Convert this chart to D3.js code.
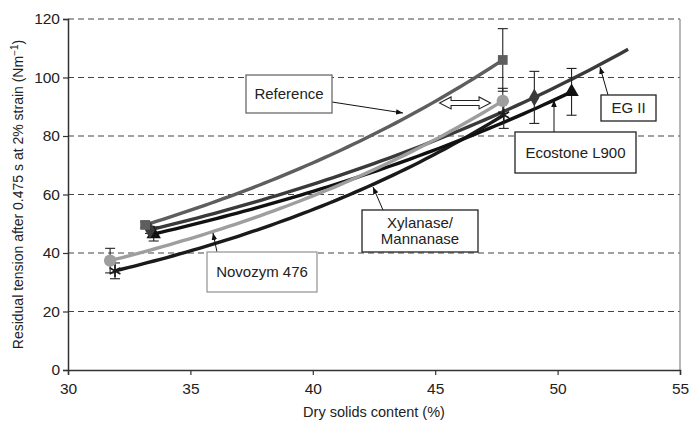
<!DOCTYPE html>
<html><head><meta charset="utf-8">
<script src="https://cdn.jsdelivr.net/npm/d3@7"></script>
<style>body{margin:0;background:#fff}svg{display:block;font-family:"Liberation Sans",Arial,sans-serif}</style>
</head><body><svg id="c" width="689" height="427"></svg>
<script>
// ---- data ----
const xTicks = [30, 35, 40, 45, 50, 55];
const yTicks = [0, 20, 40, 60, 80, 100, 120];
const seriesNames = ["Reference", "Novozym 476", "EG II", "Ecostone L900", "Xylanase/Mannanase"];
const refX = [33.15, 47.76], refY = [49.6, 106.0], refErr = [1.0, 10.7];
const novX = [31.72, 47.76], novY = [37.4, 92.0], novErr = [4.2, 4.3];
const egX  = [33.35, 49.05], egY  = [47.9, 93.2], egErr  = [1.2, 8.9];
const ecoX = [33.5, 50.57],  ecoY = [46.5, 95.1], ecoErr = [2.4, 8.0];
const xylX = [31.92, 47.8],  xylY = [33.9, 87.2], xylErr = [2.7, 4.6];
const trendEnd = [47.76, 47.76, 52.88, 50.57, 47.8];

const W = 689, H = 427, m = {l: 68, r: 9, t: 19, b: 57};
const svg = d3.select("#c");
const x = d3.scaleLinear().domain([30, 55]).range([m.l, W - m.r]);
const y = d3.scaleLinear().domain([0, 120]).range([H - m.b, m.t]);

// grid
svg.append("g").selectAll("line").data(yTicks.filter(d => d > 0)).join("line")
  .attr("x1", x(30)).attr("x2", x(55)).attr("y1", d => y(d)).attr("y2", d => y(d))
  .attr("stroke", "#444").attr("stroke-width", 1.2).attr("stroke-dasharray", "6,4");
// right border
svg.append("line").attr("x1", x(55)).attr("x2", x(55)).attr("y1", y(120)).attr("y2", y(0))
  .attr("stroke", "#888").attr("stroke-width", 1.2);

// axes
const ax = svg.append("g").attr("transform", `translate(0,${y(0)})`)
  .call(d3.axisBottom(x).tickValues(xTicks).tickSize(5).tickPadding(5));
const ay = svg.append("g").attr("transform", `translate(${x(30)},0)`)
  .call(d3.axisLeft(y).tickValues(yTicks).tickSize(5).tickPadding(3));
[ax, ay].forEach(g => {
  g.select(".domain").attr("stroke", "#333").attr("stroke-width", 1.5);
  g.selectAll(".tick line").attr("stroke", "#333").attr("stroke-width", 1.2);
  g.selectAll("text").attr("font-size", 15.5).attr("fill", "#222")
    .attr("font-family", "'Liberation Sans',Arial,sans-serif");
});
ax.selectAll("text").attr("dy", "0.9em");

svg.append("text").attr("x", (x(30) + x(55)) / 2).attr("y", 417).attr("text-anchor", "middle")
  .attr("font-size", 14.5).attr("fill", "#222").text("Dry solids content (%)");
const yt = svg.append("text").attr("transform", `translate(23,${(y(0) + y(120)) / 2}) rotate(-90)`)
  .attr("text-anchor", "middle").attr("font-size", 14).attr("fill", "#222");
yt.append("tspan").text("Residual tension after 0.475 s at 2% strain (Nm");
yt.append("tspan").attr("dy", -5).attr("font-size", 10).text("−1");
yt.append("tspan").attr("dy", 5).text(")");

// series
const series = [
  {name: seriesNames[0], xs: refX, ys: refY, err: refErr, color: "#5e5e5e", sym: d3.symbolSquare, size: 95, fill: true},
  {name: seriesNames[1], xs: novX, ys: novY, err: novErr, color: "#9e9e9e", sym: d3.symbolCircle, size: 120, fill: true},
  {name: seriesNames[2], xs: egX, ys: egY, err: egErr, color: "#3a3a3a", sym: d3.symbolDiamond, size: 90, fill: true},
  {name: seriesNames[3], xs: ecoX, ys: ecoY, err: ecoErr, color: "#111", sym: d3.symbolTriangle, size: 90, fill: true},
  {name: seriesNames[4], xs: xylX, ys: xylY, err: xylErr, color: "#1a1a1a", sym: d3.symbolAsterisk, size: 110, fill: false}
];
series.forEach((s, i) => s.end = trendEnd[i]);

// exponential trendline (least squares on ln y)
function expFit(xs, ys) {
  const ly = ys.map(Math.log);
  const mx = d3.mean(xs), my = d3.mean(ly);
  const b = d3.sum(xs, (v, i) => (v - mx) * (ly[i] - my)) / d3.sum(xs, v => (v - mx) ** 2);
  const a = Math.exp(my - b * mx);
  return v => a * Math.exp(b * v);
}
const line = d3.line().x(d => x(d[0])).y(d => y(d[1]));
const drawOrder = [4, 3, 2, 1, 0];
drawOrder.forEach(i => {
  const s = series[i];
  const f = expFit(s.xs, s.ys);
  const x0 = d3.min(s.xs), x1 = s.end;
  const pts = d3.range(0, 61).map(k => { const v = x0 + (x1 - x0) * k / 60; return [v, f(v)]; });
  svg.append("path").attr("d", line(pts)).attr("fill", "none")
    .attr("stroke", s.color).attr("stroke-width", 3.4);
});
// error bars
series.forEach(s => {
  const g = svg.append("g").attr("stroke", "#222").attr("stroke-width", 1.1);
  s.xs.forEach((v, k) => {
    const cx = x(v), y0 = y(s.ys[k] - s.err[k]), y1 = y(s.ys[k] + s.err[k]);
    g.append("line").attr("x1", cx).attr("x2", cx).attr("y1", y0).attr("y2", y1);
    g.append("line").attr("x1", cx - 5).attr("x2", cx + 5).attr("y1", y0).attr("y2", y0);
    g.append("line").attr("x1", cx - 5).attr("x2", cx + 5).attr("y1", y1).attr("y2", y1);
  });
});
// markers
drawOrder.forEach(i => {
  const s = series[i];
  s.xs.forEach((v, k) => {
    svg.append("path").attr("d", d3.symbol().type(s.sym).size(s.size)())
      .attr("transform", `translate(${x(v)},${y(s.ys[k])})`)
      .attr("fill", s.fill ? s.color : "none").attr("stroke", s.color)
      .attr("stroke-width", s.fill ? 0 : 1.6);
  });
});

// annotations
svg.append("defs").append("marker").attr("id", "ah").attr("viewBox", "0 0 10 10")
  .attr("refX", 10).attr("refY", 5).attr("markerWidth", 7).attr("markerHeight", 7)
  .attr("orient", "auto").append("path").attr("d", "M0,1 L10,5 L0,9 z").attr("fill", "#111");

const labels = [
  {lines: ["Reference"], box: [246, 75, 86, 38], border: "#6a6a6a", from: [332, 102], to: [403, 113]},
  {lines: ["EG II"], box: [601, 95, 55, 26], border: "#222", from: [608, 95], to: [600, 67]},
  {lines: ["Ecostone L900"], box: [515, 132, 121, 41], border: "#222", from: [554, 132], to: [554, 100]},
  {lines: ["Xylanase/", "Mannanase"], box: [362, 210, 116, 42], border: "#222", from: [383, 210], to: [373, 187]},
  {lines: ["Novozym 476"], box: [207, 252, 110, 40], border: "#9a9a9a", from: [217, 252], to: [213, 233]}
];
labels.forEach(l => {
  const [bx, by, bw, bh] = l.box;
  svg.append("line").attr("x1", l.from[0]).attr("y1", l.from[1]).attr("x2", l.to[0]).attr("y2", l.to[1])
    .attr("stroke", "#111").attr("stroke-width", 1).attr("marker-end", "url(#ah)");
  svg.append("rect").attr("x", bx).attr("y", by).attr("width", bw).attr("height", bh)
    .attr("fill", "#fff").attr("stroke", l.border).attr("stroke-width", 1.3);
  const n = l.lines.length;
  l.lines.forEach((t, k) => {
    svg.append("text").attr("x", bx + bw / 2).attr("y", by + bh / 2 + (k - (n - 1) / 2) * 16)
      .attr("dy", "0.35em").attr("text-anchor", "middle").attr("font-size", 15).attr("fill", "#222").text(t);
  });
});

// hollow double-headed arrow
const cx = x(46.22), cy = y(91.3);
svg.append("path").attr("transform", `translate(${cx},${cy})`)
  .attr("d", "M-25.5,0 L-14,-6 L-14,-2.5 L14,-2.5 L14,-6 L25.5,0 L14,6 L14,2.5 L-14,2.5 L-14,6 Z")
  .attr("fill", "#fff").attr("stroke", "#222").attr("stroke-width", 1.1);
</script></body></html>
